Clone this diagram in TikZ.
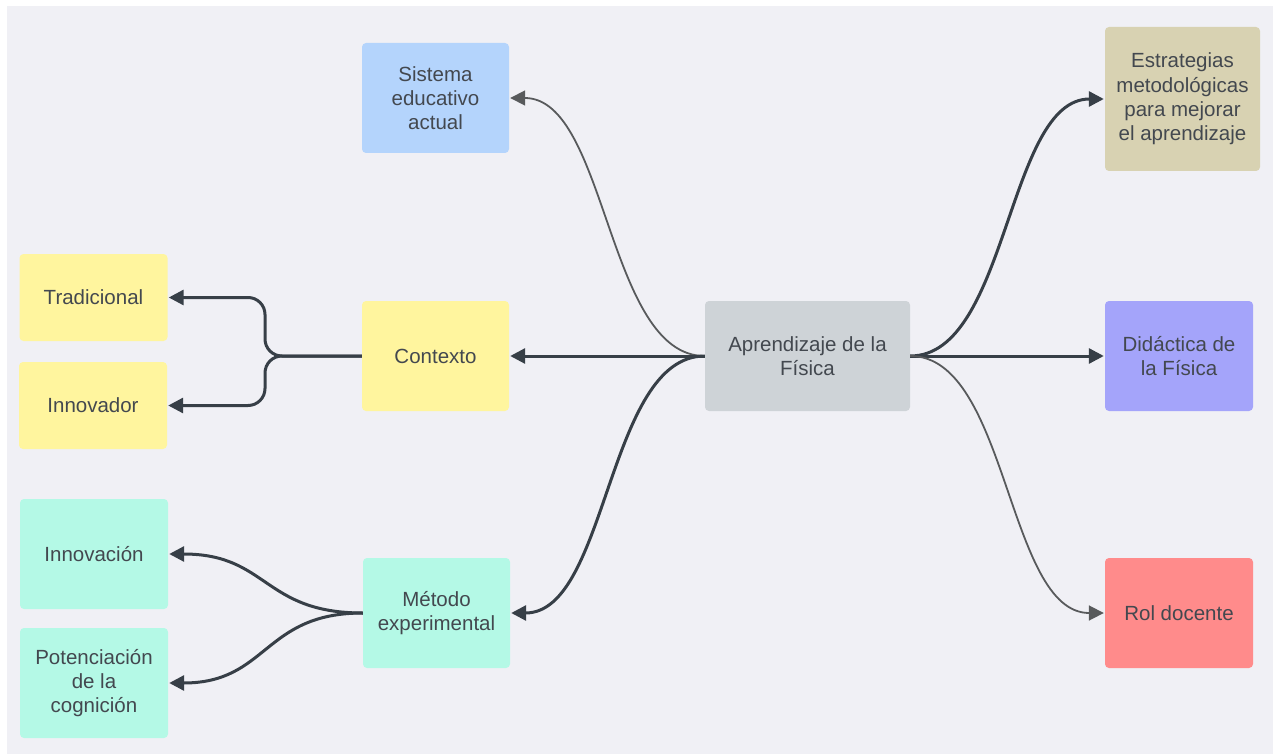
\documentclass[tikz,border=0pt]{standalone}
\usepackage{fontspec}
\setmainfont{Liberation Sans}
\usetikzlibrary{arrows.meta}

\definecolor{canvas}{HTML}{F0F0F5}
\definecolor{txt}{HTML}{43484F}
\definecolor{linkdark}{HTML}{373F47}
\definecolor{linkgray}{HTML}{585A5C}
\definecolor{cblue}{HTML}{B4D4FC}
\definecolor{cyellow}{HTML}{FFF59E}
\definecolor{cmint}{HTML}{B4F9E6}
\definecolor{cgray}{HTML}{CED3D7}
\definecolor{ctan}{HTML}{D8D2B2}
\definecolor{cviolet}{HTML}{A4A4FA}
\definecolor{csalmon}{HTML}{FF8B8B}

\tikzset{
  box/.style={rectangle, rounded corners=4pt, inner sep=0pt, align=center,
    text=txt, font=\fontsize{20.5pt}{24.3pt}\selectfont,
    minimum width=147pt, minimum height=110pt},
  leaf/.style={box, minimum width=148pt},
  thicklink/.style={draw=linkdark, line width=3pt,
    -{Triangle[length=15pt,width=15pt]}, shorten >=1pt},
  thinlink/.style={draw=linkgray, line width=1.8pt,
    -{Triangle[length=15pt,width=15pt]}, shorten >=1pt},
}

\begin{document}
\begin{tikzpicture}[x=1pt, y=-1pt]
  % canvas
  \fill[white] (0,0) rectangle (1273,754);
  \fill[canvas] (7,6) rectangle (1273,754);
  \useasboundingbox (0,0) rectangle (1273,754);

  % central topic
  \node[box, fill=cgray, minimum width=205pt] (apr) at (807.5,356) {Aprendizaje de la\\Física};

  % left branch
  \node[box, fill=cblue] (sis) at (435.5,98) {Sistema\\educativo\\actual};
  \node[box, fill=cyellow] (ctx) at (435.5,356) {Contexto};
  \node[box, fill=cmint] (met) at (436.5,613) {Método\\experimental};

  % right branch
  \node[box, fill=ctan, minimum width=155pt, minimum height=144pt] (est) at (1182.5,99)
    {Estrategias\\metodológicas\\para mejorar\\el aprendizaje};
  \node[leaf, fill=cviolet] (did) at (1179,356) {Didáctica de\\la Física};
  \node[leaf, fill=csalmon] (rol) at (1179,613) {Rol docente};

  % second level, left
  \node[leaf, fill=cyellow, minimum height=87pt] (tra) at (93.5,297.5) {Tradicional};
  \node[leaf, fill=cyellow, minimum height=87pt] (inn) at (93,405.5) {Innovador};
  \node[leaf, fill=cmint] (ino) at (94,554) {Innovación};
  \node[leaf, fill=cmint] (pot) at (94,683) {Potenciación\\de la\\cognición};

  % links from the central topic
  \draw[thinlink] (apr.west) .. controls +(-98,0) and +(98,0) .. (sis.east);
  \draw[thicklink] (apr.west) -- (ctx.east);
  \draw[thicklink] (apr.west) .. controls +(-98,0) and +(98,0) .. (met.east);
  \draw[thicklink] (apr.east) .. controls +(98,0) and +(-98,0) .. (est.west);
  \draw[thicklink] (apr.east) -- (did.west);
  \draw[thinlink] (apr.east) .. controls +(98,0) and +(-98,0) .. (rol.west);

  % links to the second level
  \draw[thicklink, rounded corners=17pt] (ctx.west) -- (265,356) -- (265,297.5) -- (tra.east);
  \draw[thicklink, rounded corners=17pt] (ctx.west) -- (265,356) -- (265,405.5) -- (inn.east);
  \draw[thicklink] (met.west) .. controls +(-100,0) and +(100,0) .. (ino.east);
  \draw[thicklink] (met.west) .. controls +(-100,0) and +(100,0) .. (pot.east);
\end{tikzpicture}
\end{document}
